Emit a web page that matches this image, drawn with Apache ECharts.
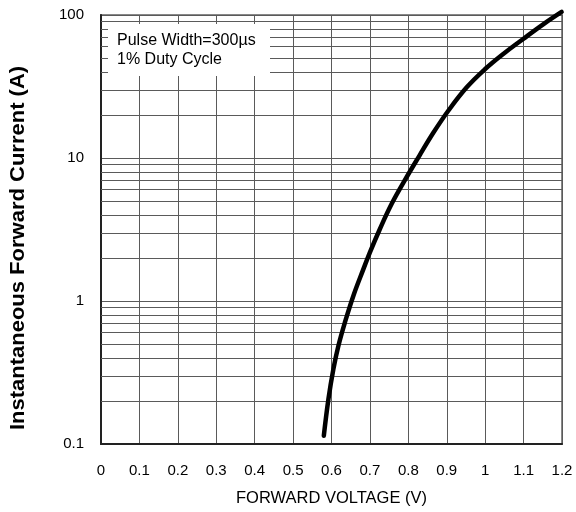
<!DOCTYPE html>
<html>
<head>
<meta charset="utf-8">
<script src="https://cdn.jsdelivr.net/npm/echarts@6/dist/echarts.min.js"></script>
<style>html,body{margin:0;padding:0;background:#fff}#c{width:576px;height:512px}</style>
</head>
<body>
<div id="c"></div>
<script>
var voltage = [0.580, 0.592, 0.605, 0.618, 0.635, 0.657, 0.683, 0.700, 0.726, 0.757, 0.791, 0.829, 0.865, 0.904, 0.952, 1.000, 1.047, 1.099, 1.151, 1.199];
var current = [0.114, 0.206, 0.335, 0.487, 0.71, 1.09, 1.67, 2.19, 3.19, 4.8, 7.0, 10.4, 15.0, 21.4, 31.2, 41.9, 53.4, 68, 86, 105];
var minorY = [0.2,0.3,0.4,0.5,0.6,0.7,0.8,0.9, 2,3,4,5,6,7,8,9, 20,30,40,50,60,70,80,90];
var noteLines = ['Pulse Width=300\u00b5s', '1% Duty Cycle'];
var xName = 'FORWARD VOLTAGE (V)';
var yName = 'Instantaneous Forward Current (A)';

var chart = echarts.init(document.getElementById('c'), null, {renderer: 'canvas'});
var font = 'Liberation Sans, Arial, sans-serif';
chart.setOption({
  animation: false,
  backgroundColor: '#fff',
  grid: {left: 101, right: 14, top: 15, bottom: 67, show: true, borderColor: '#888', borderWidth: 2, backgroundColor: 'transparent'},
  xAxis: {
    type: 'value', min: 0, max: 1.2, interval: 0.1,
    name: xName, nameLocation: 'middle', nameGap: 46,
    nameTextStyle: {fontFamily: font, fontSize: 16.5, color: '#000'},
    axisLine: {show: true, lineStyle: {color: '#222', width: 2}},
    axisTick: {show: false},
    axisLabel: {fontFamily: font, fontSize: 15, color: '#000', margin: 19},
    splitLine: {show: true, lineStyle: {color: '#5a5a5a', width: 1}}
  },
  yAxis: {
    type: 'log', logBase: 10, min: 0.1, max: 100,
    axisLine: {show: true, lineStyle: {color: '#222', width: 2}},
    axisTick: {show: false},
    axisLabel: {fontFamily: font, fontSize: 15, color: '#000', margin: 17,
      formatter: function (v) { return String(+v.toPrecision(3)); }},
    splitLine: {show: true, lineStyle: {color: '#5a5a5a', width: 1}}
  },
  series: [{
    type: 'line',
    data: voltage.map(function (v, i) { return [v, current[i]]; }),
    smooth: 0.4,
    symbol: 'none',
    clip: false,
    lineStyle: {color: '#000', width: 4.5, cap: 'round'},
    z: 10,
    markLine: {
      silent: true, symbol: 'none', label: {show: false},
      lineStyle: {color: '#5a5a5a', width: 1, type: 'solid'},
      data: minorY.map(function (y) { return {yAxis: y}; }),
      z: 1
    }
  }],
  graphic: [
    {type: 'rect', left: 108, top: 24, shape: {width: 162, height: 52}, style: {fill: '#fff'}, z: 50},
    {type: 'text', left: 117, top: 31, style: {text: noteLines.join('\n'), font: '16px ' + font, fill: '#000', lineHeight: 19}, z: 51},
    {type: 'text', x: 18, y: 248, rotation: Math.PI / 2, scaleX: 1.1, z: 51,
      style: {text: yName, font: 'bold 20px ' + font, fill: '#000', textAlign: 'center', textVerticalAlign: 'middle'}}
  ]
});
</script>
</body>
</html>
